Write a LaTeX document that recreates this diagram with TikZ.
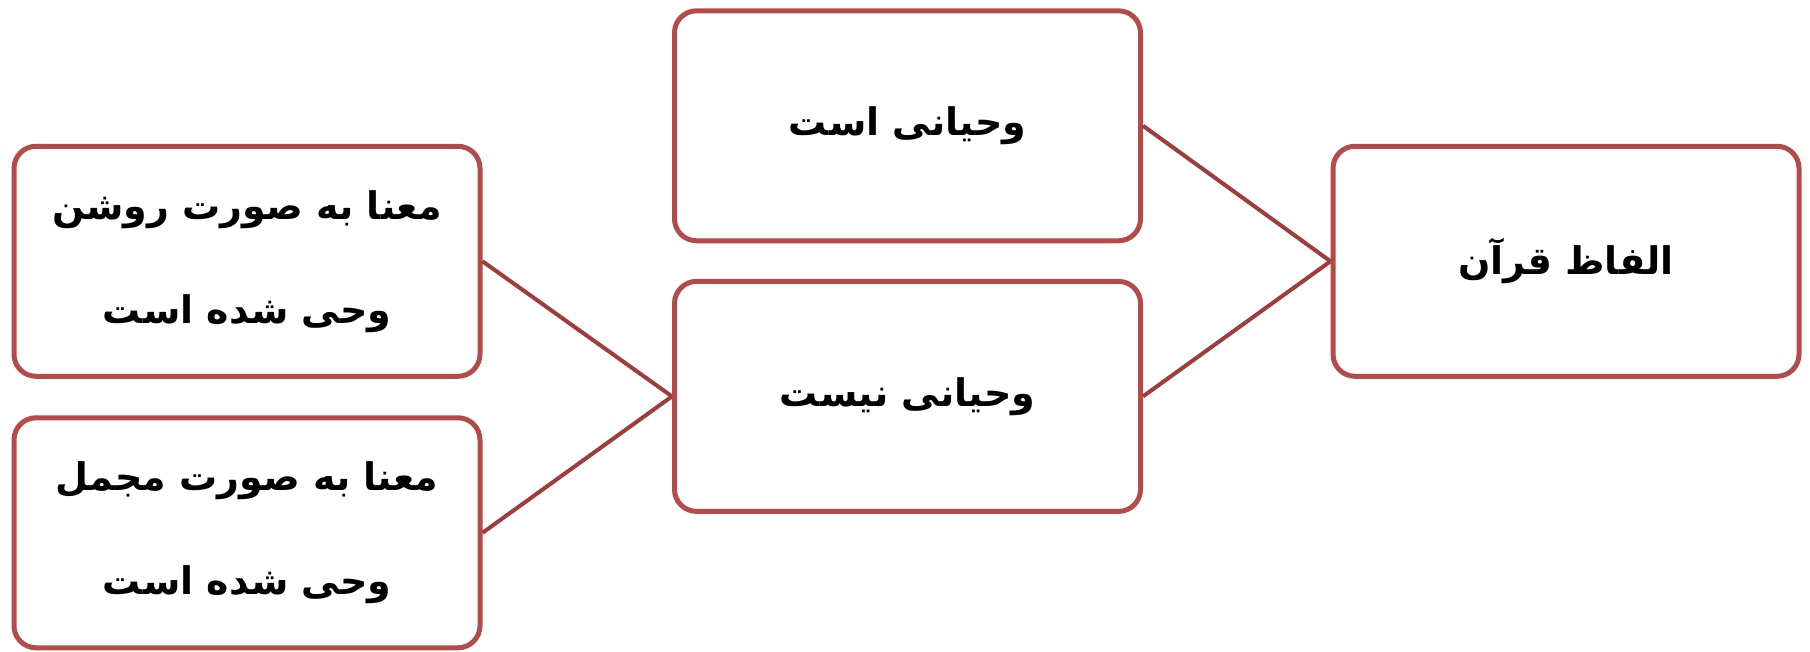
\documentclass[tikz,border=0pt]{standalone}
\usepackage{fontspec}
\TeXXeTstate=1
\newfontfamily\arabicfont[Script=Arabic]{DejaVu Sans}
\definecolor{boxred}{RGB}{180,75,75}
\definecolor{linered}{RGB}{160,60,60}
\tikzset{
  box/.style={draw=boxred, line width=5pt, rounded corners=22pt, fill=white,
    minimum width=466pt, minimum height=230pt, inner sep=0pt, align=center,
    font=\arabicfont\bfseries\fontsize{38}{104}\selectfont},
  link/.style={draw=linered, line width=4pt}
}
\begin{document}
\begin{tikzpicture}[x=1pt,y=1pt]
\useasboundingbox (0,0) rectangle (1810,652);
\node[box] (lt) at (247,390.7) {\beginR معنا به صورت روشن\endR\\\beginR وحی شده است\endR};
\node[box] (lb) at (247,119.2) {\beginR معنا به صورت مجمل\endR\\\beginR وحی شده است\endR};
\node[box] (mt) at (907.5,526.2) {\beginR وحیانی است\endR};
\node[box] (mb) at (907.5,255.6) {\beginR وحیانی نیست\endR};
\node[box] (r) at (1566,390.7) {\beginR الفاظ قرآن\endR};
\draw[link] (lt.east) -- (mb.west);
\draw[link] (lb.east) -- (mb.west);
\draw[link] (mt.east) -- (r.west);
\draw[link] (mb.east) -- (r.west);
\end{tikzpicture}
\end{document}
